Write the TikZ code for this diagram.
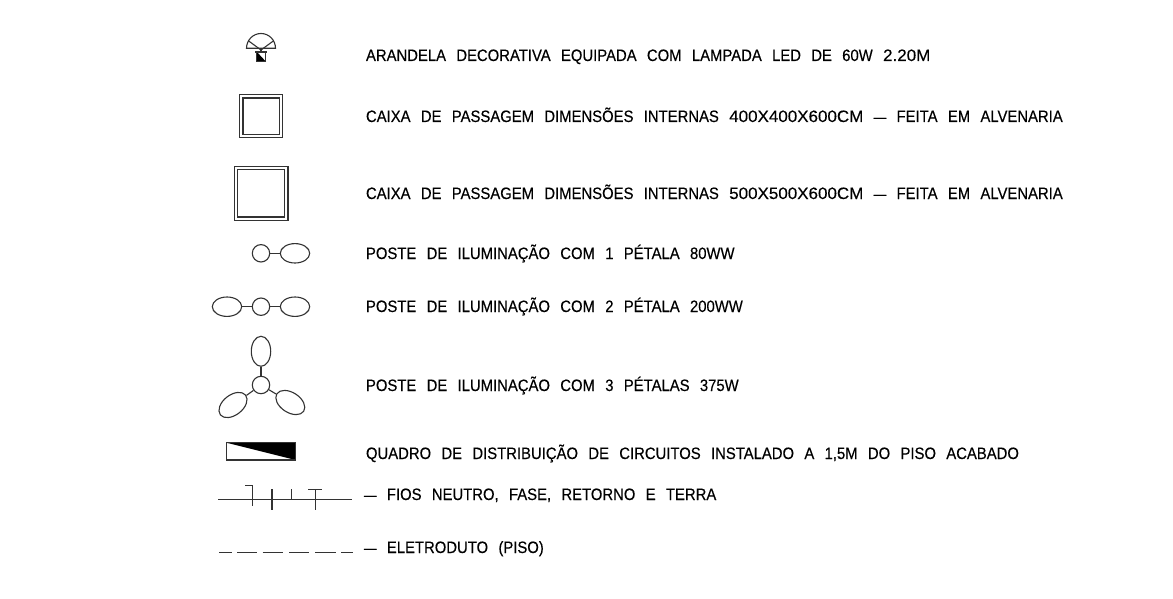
\documentclass[tikz,border=0pt]{standalone}
\usepackage{fontspec}
\usetikzlibrary{shapes.geometric}
\setmainfont[FakeStretch=0.9,WordSpace=2.5,FakeBold=0.25]{Liberation Sans}
\newfontfamily\widefont[FakeStretch=1.03,WordSpace=2.3,FakeBold=0.25]{Liberation Sans}
\newcommand{\wideword}[1]{{\widefont #1}}
\newcommand{\longdash}{{\fontsize{14}{18}\selectfont —}}
\begin{document}
\begin{tikzpicture}[x=1pt,y=-1pt,
  sym/.style={draw=black!80,line width=1.1pt,line join=miter},
  lbl/.style={anchor=base west,inner sep=0pt,outer sep=0pt,font=\fontsize{16.5}{18}\selectfont,text=black},
  lamp/.style={sym,circle,minimum size=17.4pt,inner sep=0pt},
  petalh/.style={sym,ellipse,minimum width=29.4pt,minimum height=19.4pt,inner sep=0pt},
  petalv/.style={sym,ellipse,minimum width=19.4pt,minimum height=30pt,inner sep=0pt},
  petala/.style={petalh,minimum width=32pt,minimum height=20pt},
  link/.style={draw=black!80,line width=1.1pt}]
\useasboundingbox (0,0) rectangle (1173,599);
% labels
\node[lbl] (t1) at (366,61) {ARANDELA DECORATIVA EQUIPADA COM LAMPADA LED DE 60W \wideword{2.20M}};
\node[lbl] (t2) at (366,122) {CAIXA DE PASSAGEM DIMENSÕES INTERNAS \wideword{400X400X600CM} \longdash{} FEITA EM ALVENARIA};
\node[lbl] (t3) at (366,199) {CAIXA DE PASSAGEM DIMENSÕES INTERNAS \wideword{500X500X600CM} \longdash{} FEITA EM ALVENARIA};
\node[lbl] (t4) at (366,259) {POSTE DE ILUMINAÇÃO COM 1 PÉTALA 80WW};
\node[lbl] (t5) at (366,312) {POSTE DE ILUMINAÇÃO COM 2 PÉTALA 200WW};
\node[lbl] (t6) at (366,391) {POSTE DE ILUMINAÇÃO COM 3 PÉTALAS 375W};
\node[lbl] (t7) at (366,459) {QUADRO DE DISTRIBUIÇÃO DE CIRCUITOS INSTALADO A 1,5M DO PISO ACABADO};
\node[lbl] (t8) at (364,500) {\longdash{} FIOS NEUTRO, FASE, RETORNO E TERRA};
\node[lbl] (t9) at (364,553) {\longdash{} ELETRODUTO (PISO)};
% arandela
\draw[sym] (246.5,48.3) arc[start angle=180,end angle=0,x radius=14.5,y radius=-14.8] -- cycle;
\draw[sym] (248.3,40.7) -- (261,50) -- (273.7,40.7);
\fill[black] (256.7,51.7) -- (256.7,61.7) -- (266,61.7) -- cycle;
\draw[sym] (256.7,61.7) -- (256.7,52) (265.7,52) -- (265.7,61.7) -- (256.7,61.7) (255,52) -- (267,52) (261,48.3) -- (261,52);
% boxes
\draw[sym] (239.7,94.7) rectangle (282.3,137.7);
\draw[sym] (243,98) rectangle (279.3,134.7);
\draw[sym] (234.3,166.3) rectangle (288,220.3);
\draw[sym] (237.3,169.7) rectangle (284.7,217);
% poste 1
\node[lamp] (c1) at (261,253.3) {};
\node[petalh] (p1) at (295,253.3) {};
\draw[link] (c1) -- (p1);
% poste 2
\node[lamp] (c2) at (261,306.7) {};
\node[petalh] (p2l) at (227,306.7) {};
\node[petalh] (p2r) at (295,306.7) {};
\draw[link] (p2l) -- (c2);
\draw[link] (c2) -- (p2r);
% poste 3
\node[lamp] (c3) at (261,385) {};
\node[petalv] (p3t) at (261,351.3) {};
\node[petala,rotate=38] (p3l) at (233,405) {};
\node[petala,rotate=-33] (p3r) at (290.3,402.5) {};
\draw[link] (c3) -- (p3t);
\draw[link] (c3) -- (p3l);
\draw[link] (c3) -- (p3r);
% quadro
\fill[black] (226.3,442.7) -- (295.7,442.7) -- (295.7,460) -- cycle;
\draw[sym] (226.3,442.7) rectangle (295.7,460);
% wires
\draw[sym] (218.3,499.3) -- (352.3,499.3);
\draw[sym] (245.3,485.7) -- (252.3,485.7) -- (252.3,506);
\draw[sym] (272,489.3) -- (272,510);
\draw[sym] (291.7,489.3) -- (291.7,499.3);
\draw[sym] (308.3,489.3) -- (322.3,489.3) (315.3,489.3) -- (315.3,510);
% conduit
\draw[sym] (219.3,552.3) -- (231.7,552.3) (237,552.3) -- (257.3,552.3) (262.7,552.3) -- (283.3,552.3) (289,552.3) -- (309.3,552.3) (315,552.3) -- (335.7,552.3) (341,552.3) -- (353.3,552.3);
\end{tikzpicture}
\end{document}
